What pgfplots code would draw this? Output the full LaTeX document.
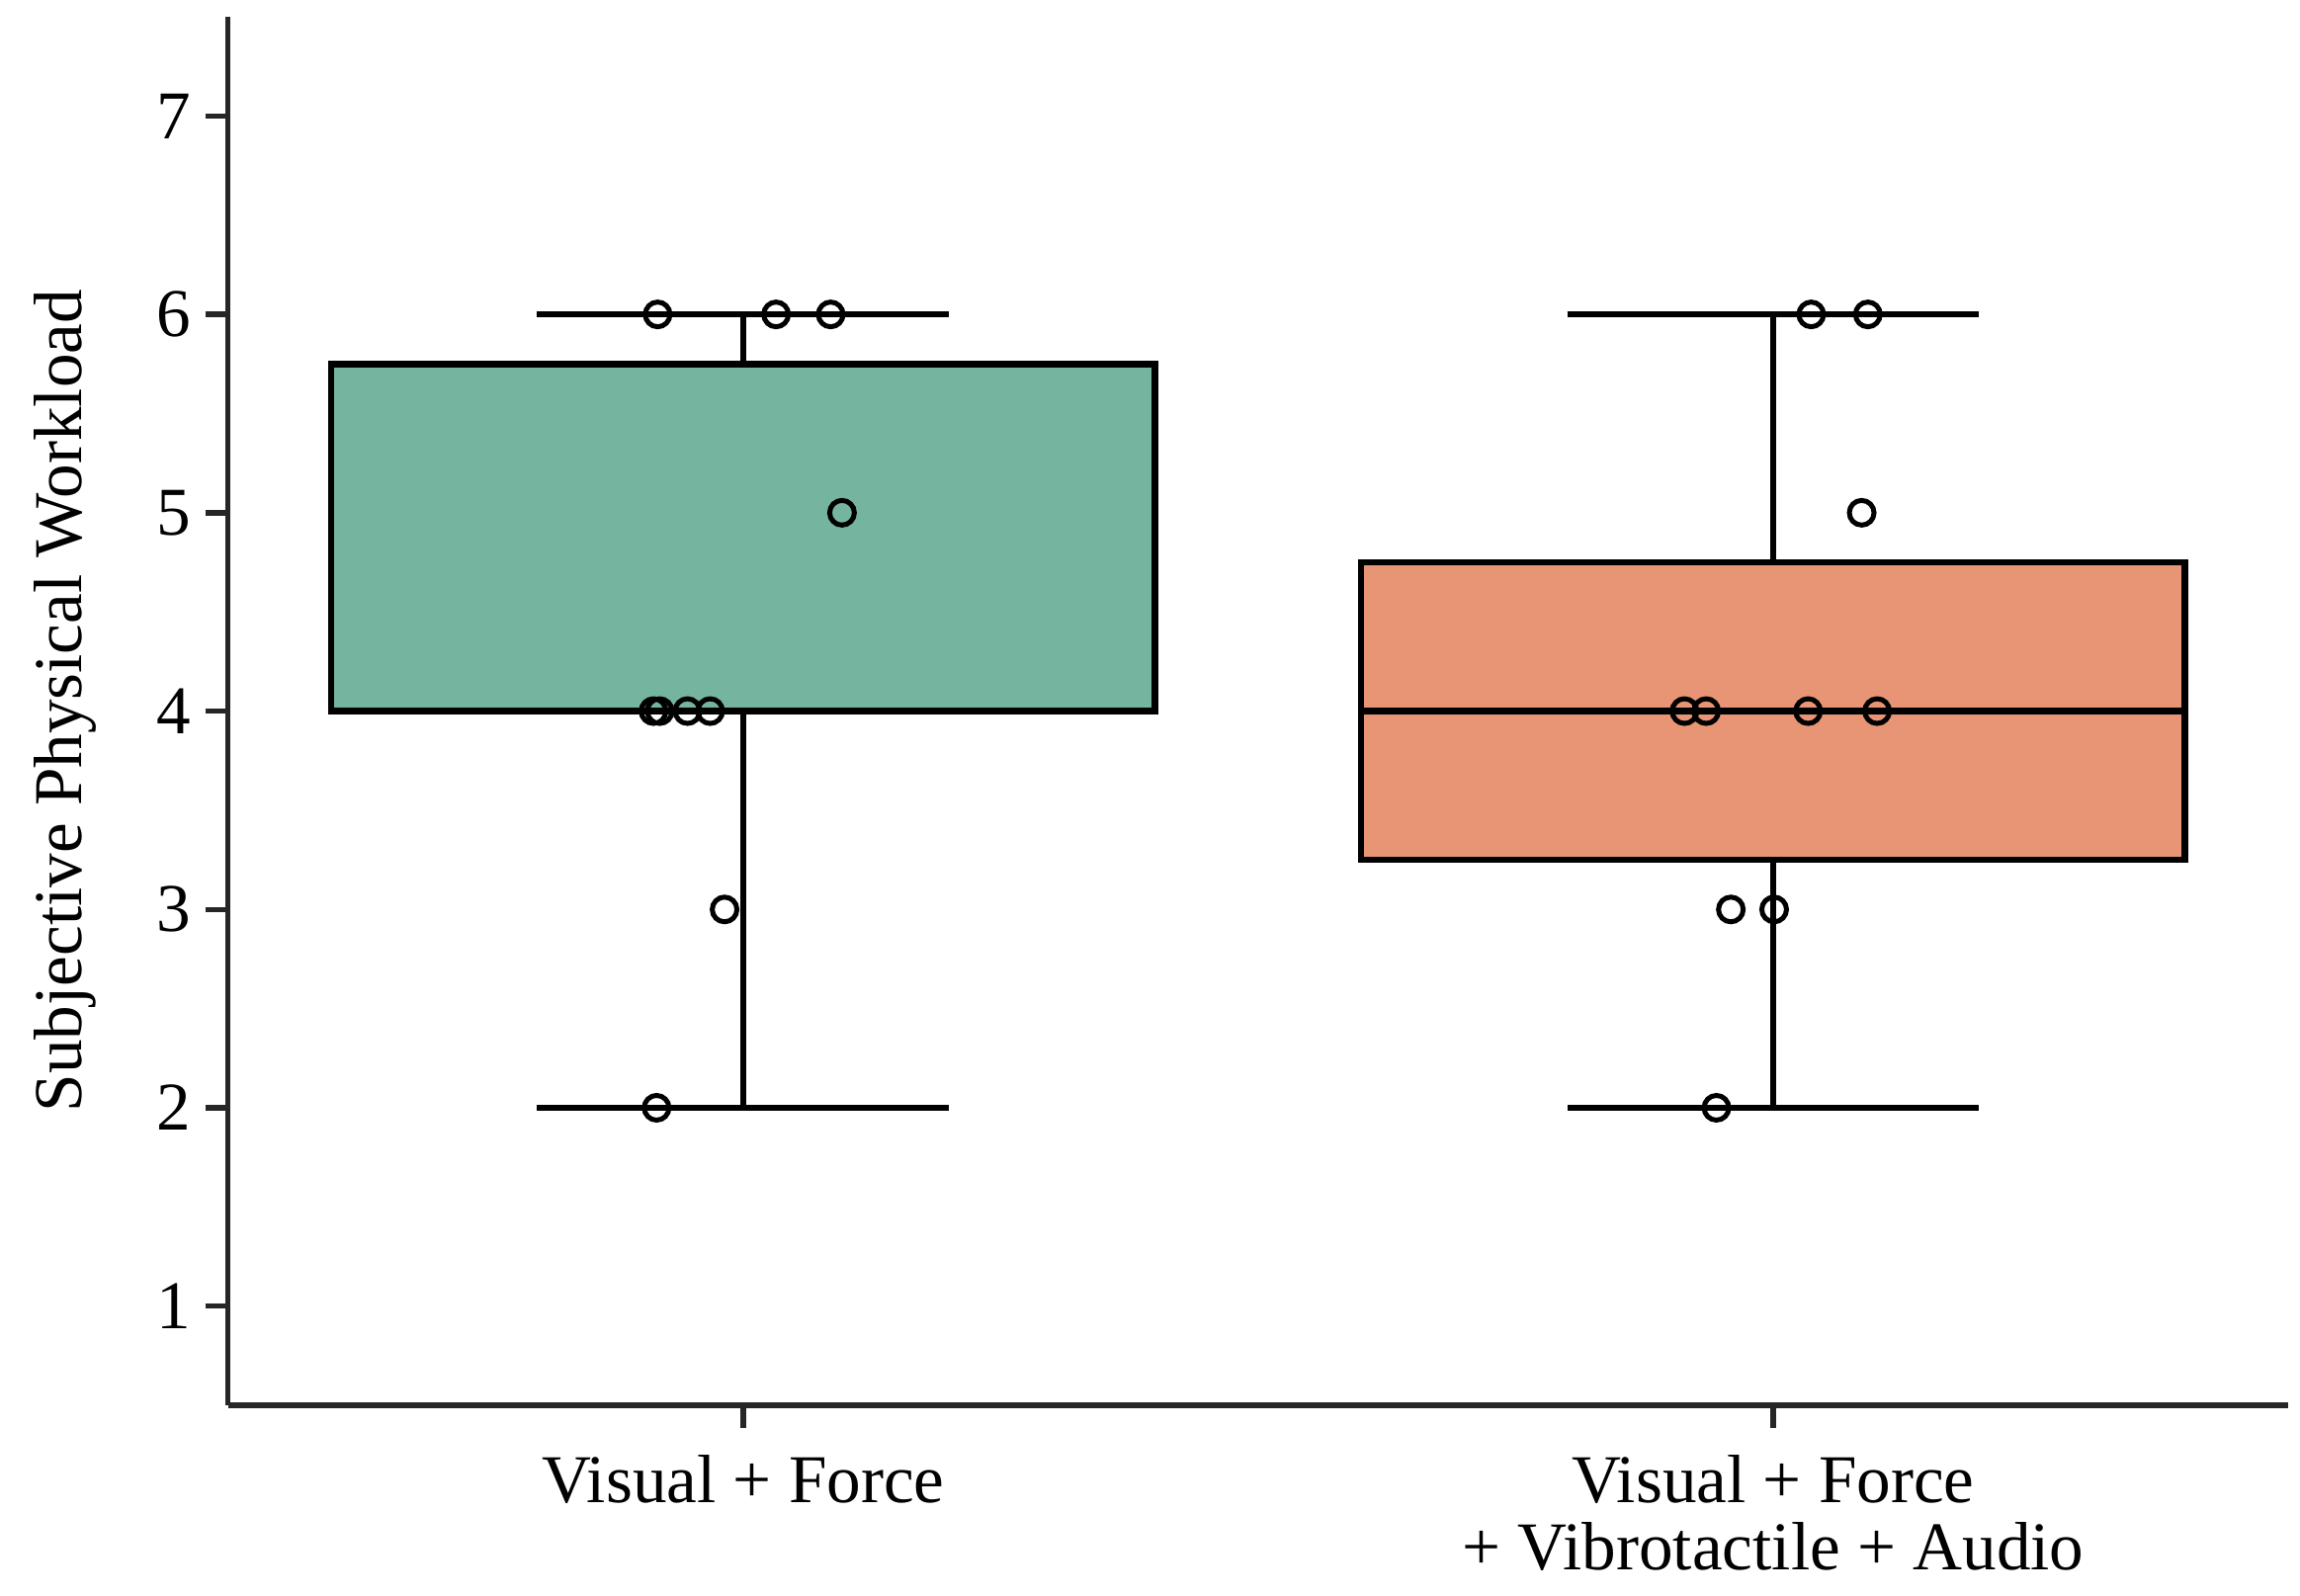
\documentclass[border=0pt]{standalone}
\usepackage{fontspec}
\setmainfont{Liberation Serif}
\usepackage{pgfplots}
\pgfplotsset{compat=1.18}
\definecolor{spine}{HTML}{262626}
\definecolor{boxgreen}{HTML}{75B5A0}
\definecolor{boxorange}{HTML}{E89576}
\newcommand{\lblfont}{\fontsize{16.6}{16.1}\selectfont}

\begin{document}
\begin{tikzpicture}
\begin{axis}[
  scale only axis, width=500.2pt, height=337.2pt,
  xmin=-0.5, xmax=1.5, ymin=0.5, ymax=7.5,
  axis x line*=bottom, axis y line*=left,
  axis line style={-, line width=1.28pt, color=spine},
  xtick={0,1}, ytick={1,2,3,4,5,6,7},
  xticklabels={{Visual + Force},{Visual + Force\\+ Vibrotactile + Audio}},
  tick align=outside, major tick length=5.5pt,
  tick style={line width=1.28pt, color=spine},
  /pgf/number format/assume math mode=true,
  tick label style={font=\lblfont},
  x tick label style={align=center, yshift=-3.2pt},
  ylabel={Subjective Physical Workload},
  label style={font=\lblfont},
  ylabel style={yshift=7.9pt, xshift=2.5pt},
  box/.style={draw=black, line width=1.6pt},
]
% box 1: Visual + Force  (whiskers 2..6, Q1 4, median 4, Q3 5.75)
\addplot[box, fill=boxgreen] coordinates {(-0.4,4) (0.4,4) (0.4,5.75) (-0.4,5.75)} -- cycle;
\addplot[box] coordinates {(-0.4,4) (0.4,4)};
\addplot[box] coordinates {(0,5.75) (0,6)};
\addplot[box] coordinates {(-0.2,6) (0.2,6)};
\addplot[box] coordinates {(0,4) (0,2)};
\addplot[box] coordinates {(-0.2,2) (0.2,2)};
% box 2: Visual + Force + Vibrotactile + Audio (whiskers 2..6, Q1 3.25, median 4, Q3 4.75)
\addplot[box, fill=boxorange] coordinates {(0.6,3.25) (1.4,3.25) (1.4,4.75) (0.6,4.75)} -- cycle;
\addplot[box] coordinates {(0.6,4) (1.4,4)};
\addplot[box] coordinates {(1,4.75) (1,6)};
\addplot[box] coordinates {(0.8,6) (1.2,6)};
\addplot[box] coordinates {(1,3.25) (1,2)};
\addplot[box] coordinates {(0.8,2) (1.2,2)};
% individual responses (strip plot)
\addplot[only marks, mark=o, mark size=3pt, line width=1.2pt, black] coordinates {
  (-0.083,6) (0.032,6) (0.085,6) (0.096,5)
  (-0.087,4) (-0.081,4) (-0.054,4) (-0.032,4)
  (-0.018,3) (-0.084,2)
};
\addplot[only marks, mark=o, mark size=3pt, line width=1.2pt, black] coordinates {
  (1.037,6) (1.092,6) (1.086,5)
  (0.914,4) (0.935,4) (1.034,4) (1.101,4)
  (0.959,3) (1.001,3) (0.945,2)
};
\coordinate (bl) at (rel axis cs:0,0);
\coordinate (tr) at (rel axis cs:1,1);
\end{axis}
\pgfresetboundingbox
\path[use as bounding box] ([shift={(-55.4pt,-46.3pt)}]bl) rectangle ([shift={(2.9pt,4.1pt)}]tr);
\end{tikzpicture}
\end{document}
